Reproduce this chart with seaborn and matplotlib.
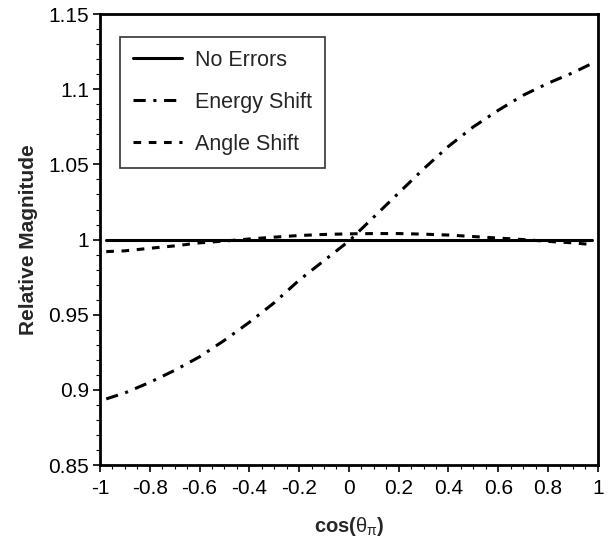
import numpy as np
import pandas as pd
import matplotlib
matplotlib.use("Agg")
import matplotlib.pyplot as plt
import seaborn as sns
from matplotlib.ticker import MultipleLocator

# Data
cos_theta = [-0.975, -0.9, -0.8, -0.7, -0.6, -0.5, -0.4, -0.3, -0.2, -0.1, 0.0,
             0.1, 0.2, 0.3, 0.4, 0.5, 0.6, 0.7, 0.8, 0.9, 0.975]
no_errors = [1.0] * len(cos_theta)
energy_shift = [0.894, 0.898, 0.905, 0.913, 0.922, 0.933, 0.945, 0.958, 0.973, 0.986, 0.999,
                1.015, 1.031, 1.047, 1.062, 1.075, 1.086, 1.096, 1.104, 1.111, 1.117]
angle_shift = [0.992, 0.9925, 0.9942, 0.9958, 0.9978, 0.9990, 1.0004, 1.0016, 1.0027, 1.0034, 1.0038,
               1.0040, 1.0040, 1.0036, 1.0030, 1.0020, 1.0010, 1.0000, 0.9988, 0.9978, 0.9967]
series_names = ["No Errors", "Energy Shift", "Angle Shift"]
x_tick_labels = ["-1", "-0.8", "-0.6", "-0.4", "-0.2", "0", "0.2", "0.4", "0.6", "0.8", "1"]
y_tick_labels = ["0.85", "0.9", "0.95", "1", "1.05", "1.1", "1.15"]

df = pd.concat([
    pd.DataFrame({"x": cos_theta, "y": no_errors, "series": series_names[0]}),
    pd.DataFrame({"x": cos_theta, "y": energy_shift, "series": series_names[1]}),
    pd.DataFrame({"x": cos_theta, "y": angle_shift, "series": series_names[2]}),
])

sns.set_theme(style="white")
plt.rcParams["font.family"] = ["Liberation Sans", "DejaVu Sans"]
plt.rcParams["mathtext.fontset"] = "custom"
plt.rcParams["mathtext.rm"] = "Liberation Sans"
plt.rcParams["mathtext.it"] = "Liberation Sans"
plt.rcParams["mathtext.bf"] = "Liberation Sans:bold"

fig = plt.figure(figsize=(6.1, 5.42), dpi=100)
ax = fig.add_axes([0.164, 0.142, 0.816, 0.832])

styles = {"No Errors": "-", "Energy Shift": (0, (4, 2.5, 1, 2.5)), "Angle Shift": (0, (2.5, 2.5))}
sns.lineplot(data=df, x="x", y="y", hue="series", palette=["black"] * 3,
             ax=ax, legend=False, sort=False)
for line, name in zip(ax.get_lines(), series_names):
    line.set_linestyle(styles[name])
    line.set_linewidth(2.2)
    line.set_label(name)

ax.set_xlim(-1, 1)
ax.set_ylim(0.85, 1.15)
ax.set_xticks(np.arange(-1, 1.01, 0.2))
ax.set_xticklabels(x_tick_labels)
ax.set_yticks(np.arange(0.85, 1.151, 0.05))
ax.set_yticklabels(y_tick_labels)
ax.xaxis.set_minor_locator(MultipleLocator(0.05))
ax.yaxis.set_minor_locator(MultipleLocator(0.01))
ax.tick_params(axis="both", which="major", direction="out", length=5, width=1.2,
               labelsize=15, colors="black", bottom=True, left=True, top=False, right=False)
ax.tick_params(axis="x", which="major", pad=5)
ax.tick_params(axis="y", which="major", pad=3)
ax.tick_params(axis="both", which="minor", direction="out", length=3, width=0.8,
               bottom=True, left=True, top=False, right=False, colors="black")
for s in ax.spines.values():
    s.set_color("black")
    s.set_linewidth(2)

ax.set_xlabel(r"cos($\theta_\pi$)", fontsize=14.5, fontweight="bold", labelpad=12)
ax.set_ylabel("Relative Magnitude", fontsize=15, fontweight="bold", labelpad=7)

leg = ax.legend(loc="upper left", bbox_to_anchor=(0.04, 0.95), fontsize=15.5,
                frameon=True, fancybox=False, edgecolor="black", handlelength=2.3,
                labelspacing=0.98, borderpad=0.6, handletextpad=0.6, borderaxespad=0)
leg.get_frame().set_linewidth(1.2)

fig.savefig("out.png", dpi=100)
